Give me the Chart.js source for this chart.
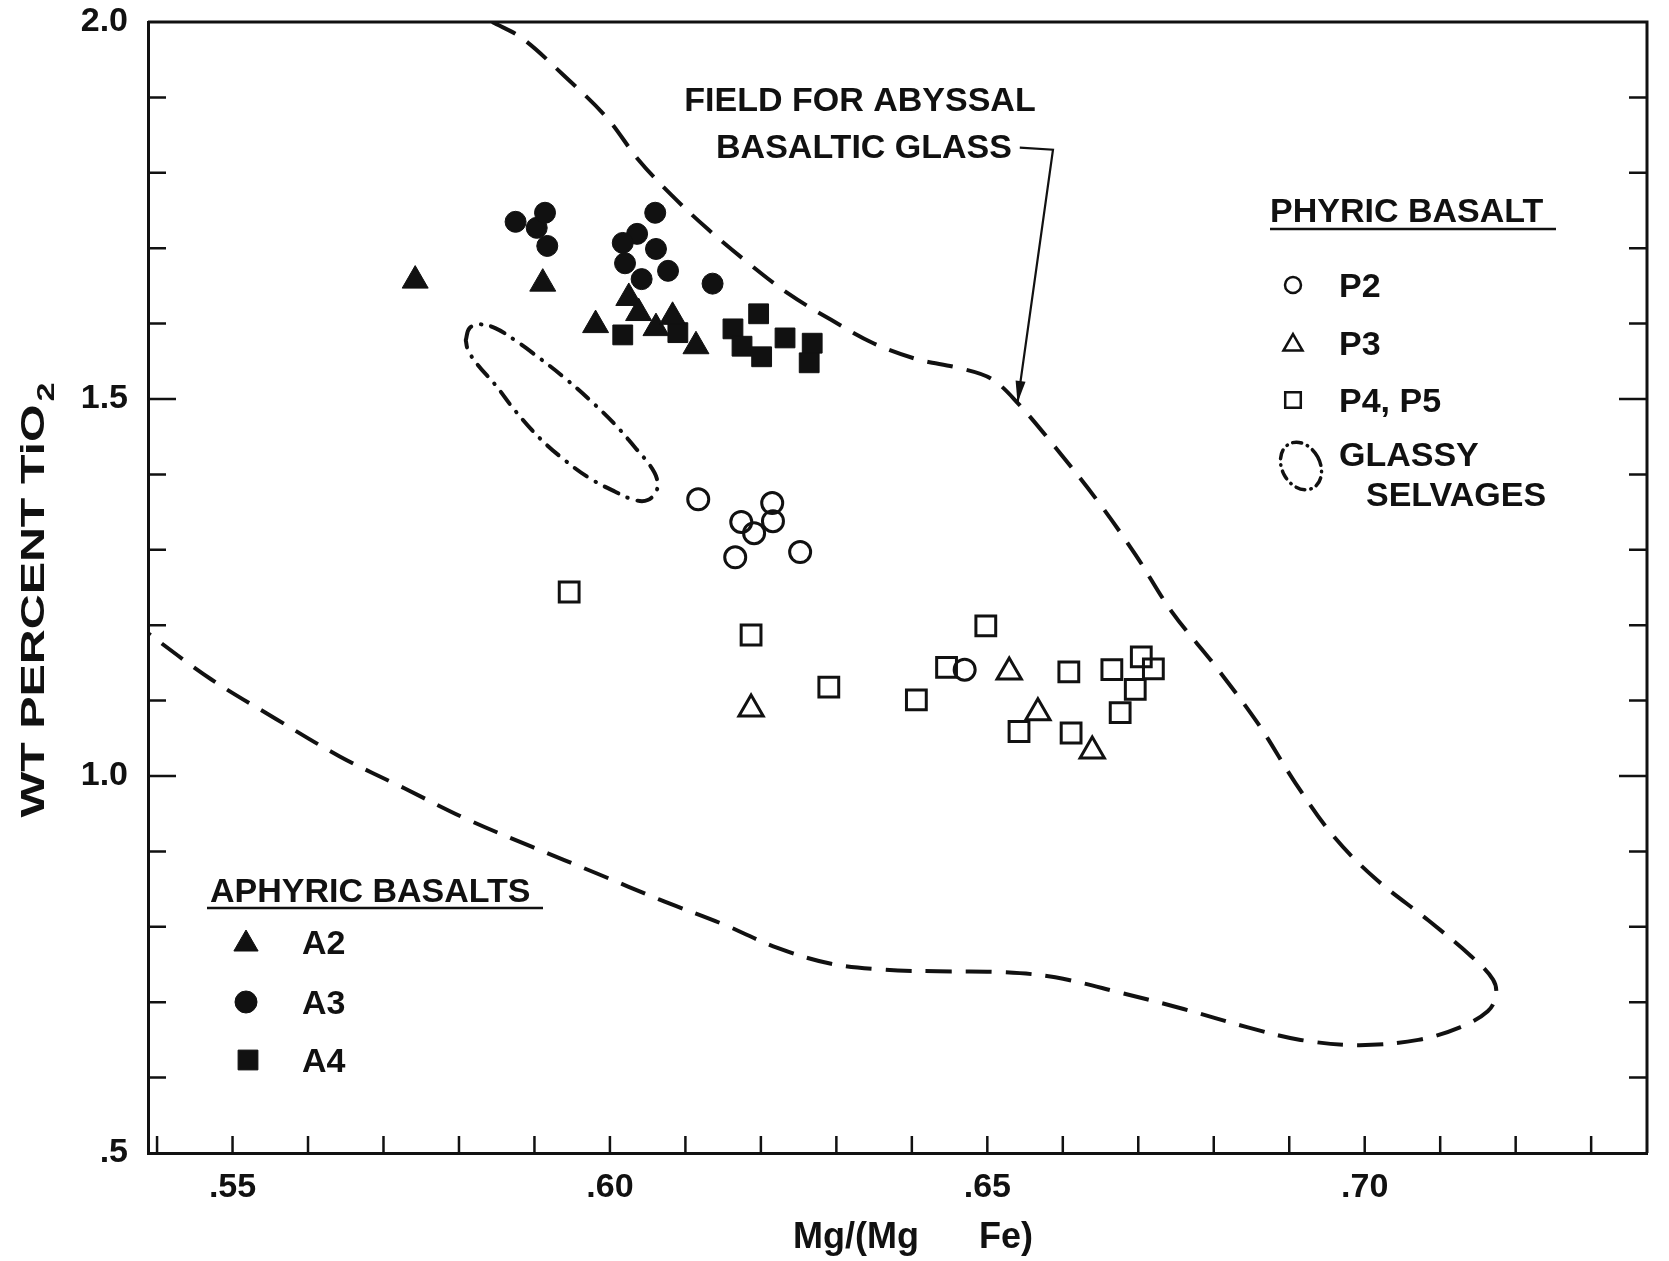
<!DOCTYPE html>
<html>
<head>
<meta charset="utf-8">
<script src="https://cdn.jsdelivr.net/npm/chart.js@4.4.1/dist/chart.umd.min.js"></script>
<style>
  html, body { margin: 0; padding: 0; background: #fff; }
  #wrap { width: 1669px; height: 1261px; }
</style>
</head>
<body>
<div id="wrap"><canvas id="grafico" width="1669" height="1261"></canvas></div>
<script>
// basaltos afiricos (simbolos cheios)
const a2X = [0.5742, 0.5911, 0.5981, 0.6025, 0.6038, 0.6061, 0.6083, 0.6114]
const a2Y = [1.657, 1.653, 1.598, 1.634, 1.614, 1.594, 1.609, 1.570]

const a3X = [0.5875, 0.5903, 0.5914, 0.5917, 0.6060, 0.6036, 0.6017, 0.6061, 0.6020, 0.6077, 0.6042, 0.6136]
const a3Y = [1.735, 1.727, 1.747, 1.703, 1.747, 1.719, 1.707, 1.699, 1.680, 1.670, 1.659, 1.653]

const a4X = [0.6017, 0.6090, 0.6163, 0.6197, 0.6175, 0.6201, 0.6232, 0.6268, 0.6264]
const a4Y = [1.585, 1.588, 1.593, 1.613, 1.570, 1.556, 1.581, 1.574, 1.548]

// basaltos firicos (simbolos vazios)
const p2X = [0.6117, 0.6215, 0.6174, 0.6216, 0.6191, 0.6166, 0.6252, 0.6470]
const p2Y = [1.367, 1.362, 1.337, 1.338, 1.322, 1.290, 1.297, 1.141]

const p3X = [0.6187, 0.6529, 0.6567, 0.6639]
const p3Y = [1.089, 1.138, 1.084, 1.033]

const p45X = [0.5946, 0.6187, 0.6290, 0.6406, 0.6446, 0.6498, 0.6608, 0.6542, 0.6611, 0.6665, 0.6704, 0.6720, 0.6696, 0.6676]
const p45Y = [1.244, 1.187, 1.118, 1.101, 1.144, 1.199, 1.138, 1.059, 1.057, 1.141, 1.158, 1.142, 1.115, 1.084]

// campo do vidro basaltico abissal (tracejado)
const campoX = [0.5844, 0.5883, 0.5939, 0.5996, 0.6038, 0.6081, 0.6130, 0.6180, 0.6236, 0.6293, 0.6349, 0.6406, 0.6463, 0.6505, 0.6540, 0.6590, 0.6646, 0.6696, 0.6745, 0.6802, 0.6859, 0.6908, 0.6958, 0.7014, 0.7085, 0.7141, 0.7170, 0.7174, 0.7163, 0.7127, 0.7071, 0.6993, 0.6915, 0.6844, 0.6760, 0.6675, 0.6590, 0.6519, 0.6434, 0.6364, 0.6293, 0.6222, 0.6151, 0.6066, 0.5982, 0.5897, 0.5812, 0.5727, 0.5642, 0.5557, 0.5472, 0.5383]
const campoY = [2.000, 1.979, 1.929, 1.873, 1.817, 1.771, 1.725, 1.683, 1.640, 1.605, 1.574, 1.553, 1.541, 1.527, 1.495, 1.436, 1.365, 1.294, 1.217, 1.146, 1.069, 0.991, 0.921, 0.864, 0.808, 0.761, 0.730, 0.709, 0.688, 0.667, 0.650, 0.643, 0.650, 0.667, 0.691, 0.713, 0.733, 0.740, 0.741, 0.743, 0.751, 0.772, 0.803, 0.836, 0.871, 0.906, 0.942, 0.984, 1.026, 1.076, 1.128, 1.193]

// selvagens vitreas (traco-ponto)
const selvX = [0.5809, 0.5814, 0.5828, 0.5848, 0.5874, 0.5907, 0.5940, 0.5973, 0.6007, 0.6033, 0.6053, 0.6062, 0.6062, 0.6050, 0.6033, 0.6007, 0.5973, 0.5940, 0.5907, 0.5874, 0.5848, 0.5825, 0.5812, 0.5809]
const selvY = [1.578, 1.594, 1.599, 1.594, 1.578, 1.554, 1.528, 1.499, 1.466, 1.436, 1.412, 1.395, 1.379, 1.366, 1.366, 1.377, 1.395, 1.419, 1.448, 1.485, 1.519, 1.545, 1.565, 1.578]

// seta da legenda do campo
const setaX = [0.6543, 0.6587, 0.6540]
const setaY = [1.8335, 1.8307, 1.4948]

const FONTE = '"Liberation Sans", Arial, Helvetica, sans-serif'
const PRETO = '#111'

function pontos(xs, ys) {
  return xs.map((v, i) => ({ x: v, y: ys[i] }))
}

function simbolo(label, xs, ys, estilo, raio, cheio) {
  return {
    label,
    data: pontos(xs, ys),
    pointStyle: estilo,
    pointRadius: raio,
    backgroundColor: cheio ? PRETO : 'rgba(0,0,0,0)',
    borderColor: PRETO,
    borderWidth: cheio ? 1 : 3,
    showLine: false
  }
}

function contorno(label, xs, ys, traco, largura, tensao, ponta) {
  return {
    label,
    data: pontos(xs, ys),
    showLine: true,
    pointRadius: 0,
    borderColor: PRETO,
    backgroundColor: PRETO,
    borderWidth: largura,
    borderDash: traco,
    borderCapStyle: ponta || 'butt',
    tension: tensao,
    fill: false
  }
}

function texto(ctx, s, x, y, tam, align) {
  ctx.font = `bold ${tam}px ${FONTE}`
  ctx.textAlign = align || 'left'
  ctx.textBaseline = 'alphabetic'
  ctx.fillText(s, x, y)
}

function marcador(ctx, estilo, raio, cheio, x, y, largura) {
  ctx.fillStyle = cheio ? PRETO : 'rgba(0,0,0,0)'
  ctx.strokeStyle = PRETO
  ctx.lineWidth = largura
  Chart.helpers.drawPoint(ctx, { pointStyle: estilo, radius: raio, rotation: 0, borderWidth: largura }, x, y)
}

const decoracao = {
  id: 'decoracao',
  afterDraw(chart) {
    const { ctx, chartArea: a, scales: { x, y } } = chart
    ctx.save()
    ctx.strokeStyle = PRETO
    ctx.fillStyle = PRETO
    ctx.setLineDash([])

    // moldura de cima e da direita
    ctx.lineWidth = 3
    ctx.beginPath()
    ctx.moveTo(a.left, a.top)
    ctx.lineTo(a.right, a.top)
    ctx.lineTo(a.right, a.bottom)
    ctx.stroke()

    // ticks para dentro
    ctx.lineWidth = 2.5
    x.ticks.forEach(t => {
      const px = x.getPixelForValue(t.value)
      ctx.beginPath()
      ctx.moveTo(px, a.bottom)
      ctx.lineTo(px, a.bottom - 17)
      ctx.stroke()
    })
    y.ticks.forEach(t => {
      const py = y.getPixelForValue(t.value)
      if (Math.abs(py - a.top) < 1 || Math.abs(py - a.bottom) < 1) return
      const n = Math.round(t.value * 10)
      const len = n % 5 === 0 ? 28 : 18
      ctx.beginPath()
      ctx.moveTo(a.left, py)
      ctx.lineTo(a.left + len, py)
      ctx.moveTo(a.right, py)
      ctx.lineTo(a.right - len, py)
      ctx.stroke()
    })

    // titulo do eixo y com subscrito
    ctx.save()
    ctx.translate(32, 600)
    ctx.rotate(-Math.PI / 2)
    ctx.font = `bold 34px ${FONTE}`
    const base = 'WT PERCENT TiO'
    const wBase = ctx.measureText(base).width
    ctx.font = `bold 24px ${FONTE}`
    const wSub = ctx.measureText('2').width
    const total = wBase + wSub + 2
    const esc = 435 / total
    ctx.scale(esc, 1)
    texto(ctx, base, -total / 2, 12, 34)
    texto(ctx, '2', -total / 2 + wBase + 2, 22, 24)
    ctx.restore()

    // titulo do eixo x
    texto(ctx, 'Mg/(Mg      Fe)', 913, 1248, 36, 'center')

    // anotacao do campo
    texto(ctx, 'FIELD FOR ABYSSAL', 860, 111, 34, 'center')
    texto(ctx, 'BASALTIC GLASS', 864, 158, 34, 'center')
    const n = setaX.length
    const bx = x.getPixelForValue(setaX[n - 2]), by = y.getPixelForValue(setaY[n - 2])
    const tx = x.getPixelForValue(setaX[n - 1]), ty = y.getPixelForValue(setaY[n - 1])
    const ang = Math.atan2(ty - by, tx - bx)
    ctx.beginPath()
    ctx.moveTo(tx, ty)
    ctx.lineTo(tx - 22 * Math.cos(ang) + 5 * Math.sin(ang), ty - 22 * Math.sin(ang) - 5 * Math.cos(ang))
    ctx.lineTo(tx - 22 * Math.cos(ang) - 5 * Math.sin(ang), ty - 22 * Math.sin(ang) + 5 * Math.cos(ang))
    ctx.closePath()
    ctx.fill()

    // legenda da direita
    ctx.fillStyle = PRETO
    texto(ctx, 'PHYRIC BASALT', 1270, 222, 34)
    ctx.lineWidth = 2.5
    ctx.beginPath()
    ctx.moveTo(1270, 229)
    ctx.lineTo(1556, 229)
    ctx.stroke()
    marcador(ctx, 'circle', 8, false, 1293, 285, 2.5)
    marcador(ctx, 'triangle', 11, false, 1293, 345, 2.5)
    marcador(ctx, 'rect', 11, false, 1293, 400, 2.5)
    ctx.fillStyle = PRETO
    texto(ctx, 'P2', 1339, 297, 34)
    texto(ctx, 'P3', 1339, 355, 34)
    texto(ctx, 'P4, P5', 1339, 412, 34)
    texto(ctx, 'GLASSY', 1339, 466, 34)
    texto(ctx, 'SELVAGES', 1366, 506, 34)
    ctx.save()
    ctx.setLineDash([9, 6, 0.5, 6])
    ctx.lineCap = 'round'
    ctx.lineWidth = 3.5
    ctx.beginPath()
    ctx.ellipse(1301, 466, 19, 25, -0.5, 0, Math.PI * 2)
    ctx.stroke()
    ctx.restore()

    // legenda da esquerda
    ctx.fillStyle = PRETO
    texto(ctx, 'APHYRIC BASALTS', 210, 902, 34)
    ctx.lineWidth = 2.5
    ctx.beginPath()
    ctx.moveTo(207, 908)
    ctx.lineTo(543, 908)
    ctx.stroke()
    marcador(ctx, 'triangle', 14, true, 246, 944, 1)
    marcador(ctx, 'circle', 11, true, 246, 1002, 1)
    marcador(ctx, 'rect', 14, true, 248, 1060, 1)
    ctx.fillStyle = PRETO
    texto(ctx, 'A2', 302, 954, 34)
    texto(ctx, 'A3', 302, 1014, 34)
    texto(ctx, 'A4', 302, 1072, 34)

    ctx.restore()
  }
}

new Chart(document.getElementById('grafico'), {
  type: 'scatter',
  data: {
    datasets: [
      contorno('Campo', campoX, campoY, [26, 14], 4, 0.35),
      contorno('Selvagens', selvX, selvY, [15, 10, 0.5, 10], 4, 0.4, 'round'),
      contorno('Seta', setaX, setaY, [], 2.2, 0),
      simbolo('A2', a2X, a2Y, 'triangle', 15, true),
      simbolo('A3', a3X, a3Y, 'circle', 10.5, true),
      simbolo('A4', a4X, a4Y, 'rect', 14, true),
      simbolo('P2', p2X, p2Y, 'circle', 10.5, false),
      simbolo('P3', p3X, p3Y, 'triangle', 14, false),
      simbolo('P4, P5', p45X, p45Y, 'rect', 14, false)
    ]
  },
  options: {
    responsive: false,
    animation: false,
    events: [],
    layout: { padding: { top: 22, right: 22, left: 0, bottom: 0 } },
    plugins: {
      legend: { display: false },
      tooltip: { enabled: false }
    },
    scales: {
      x: {
        type: 'linear',
        min: 0.5388,
        max: 0.7374,
        afterFit: s => {
          s.height = 108
          s.paddingLeft = 0
          s.paddingRight = 0
        },
        grid: { display: false, drawTicks: false },
        border: { display: true, color: PRETO, width: 3 },
        ticks: {
          stepSize: 0.01,
          includeBounds: false,
          autoSkip: false,
          maxRotation: 0,
          padding: 14,
          color: PRETO,
          font: { family: FONTE, size: 34, weight: 'bold' },
          callback: v => {
            const n = Math.round(v * 100)
            return n % 5 === 0 ? '.' + n : ''
          }
        }
      },
      y: {
        type: 'linear',
        min: 0.5,
        max: 2.0,
        afterFit: s => {
          s.width = 148
          s.paddingTop = 0
          s.paddingBottom = 0
        },
        grid: { display: false, drawTicks: false },
        border: { display: true, color: PRETO, width: 3 },
        ticks: {
          stepSize: 0.1,
          autoSkip: false,
          padding: 20,
          color: PRETO,
          font: { family: FONTE, size: 34, weight: 'bold' },
          callback: v => {
            const n = Math.round(v * 10)
            if (n % 5 !== 0) return ''
            return n === 5 ? '.5' : (n / 10).toFixed(1)
          }
        }
      }
    }
  },
  plugins: [decoracao]
})
</script>
</body>
</html>
